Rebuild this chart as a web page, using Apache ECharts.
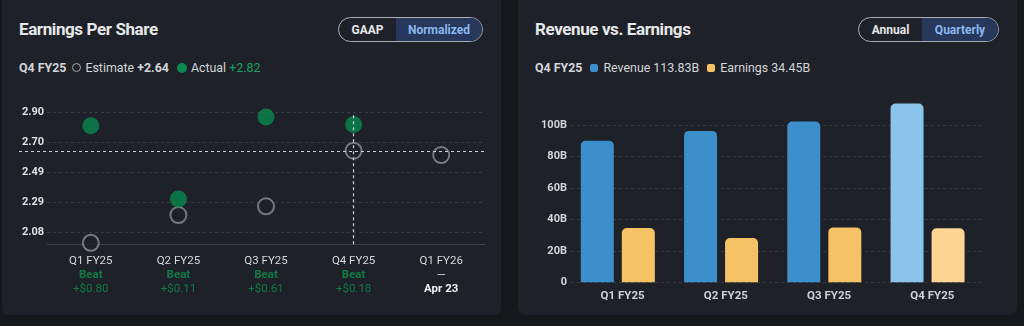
<!DOCTYPE html>
<html>
<head>
<meta charset="utf-8">
<script src="https://cdn.jsdelivr.net/npm/echarts@6/dist/echarts.min.js"></script>
<style>
  html, body { margin:0; padding:0; background:#15171b; width:1024px; height:326px; overflow:hidden; font-family: Roboto, "Noto Sans", sans-serif; }
  .panel { position:absolute; top:-6px; height:321px; background:#1e2128; border-radius:7px; }
  .title { position:absolute; left:17px; top:25px; font-size:17px; font-weight:700; color:#e6e7e9; letter-spacing:-0.4px; }
  .sub { position:absolute; left:17px; top:66px; font-size:12.4px; color:#d3d5d9; white-space:nowrap; display:flex; align-items:center; }
  .sub b { font-weight:700; }
  .toggle { position:absolute; top:23px; height:23px; border:1.5px solid #a9acb2; border-radius:13px; overflow:hidden; display:flex; font-size:12px; font-weight:700; }
  .toggle span { display:flex; align-items:center; justify-content:center; height:100%; }
  .toggle .off { color:#e6e7e9; }
  .toggle .on { background:#27385c; color:#8bb8ec; }
  .ring { display:inline-block; width:7px; height:7px; border:1.3px solid #a5a8ad; border-radius:50%; margin:0 4px 0 6px; }
  .dot { display:inline-block; width:10px; height:10px; background:#0a8a4f; border-radius:50%; margin:0 4px 0 8px; }
  .sq { display:inline-block; width:8px; height:8px; border-radius:2px; margin:0 5px 0 8px; }
  .chart { position:absolute; left:0; top:6px; width:100%; height:315px; }
</style>
</head>
<body>
<div class="panel" id="p1" style="left:2px;width:499px;">
  <div class="title">Earnings Per Share</div>
  <div class="toggle" style="left:336px;width:143px;"><span class="off" style="width:57px">GAAP</span><span class="on" style="width:86px">Normalized</span></div>
  <div class="sub" id="sub1"></div>
  <div class="chart" id="c1"></div>
</div>
<div class="panel" id="p2" style="left:518px;width:499px;">
  <div class="title">Revenue vs. Earnings</div>
  <div class="toggle" style="left:340px;width:139px;"><span class="off" style="width:63px">Annual</span><span class="on" style="width:76px">Quarterly</span></div>
  <div class="sub" id="sub2"></div>
  <div class="chart" id="c2"></div>
</div>
<script>
// ---- EPS data ----
const epsCategories = ['Q1 FY25', 'Q2 FY25', 'Q3 FY25', 'Q4 FY25', 'Q1 FY26'];
const epsEstimate = [2.01, 2.20, 2.26, 2.64, 2.61];
const epsActual = [2.81, 2.31, 2.87, 2.82, null];
const epsResult = ['Beat', 'Beat', 'Beat', 'Beat', '—'];
const epsDiff = ['+$0.80', '+$0.11', '+$0.61', '+$0.18', 'Apr 23'];
const epsTicks = [2.08, 2.285, 2.49, 2.695, 2.90];
const epsTickLabels = ['2.08', '2.29', '2.49', '2.70', '2.90'];
const epsMin = 2.0, epsMax = 2.90;
const epsFocus = 3;

// ---- Revenue / earnings data ----
const revCategories = ['Q1 FY25', 'Q2 FY25', 'Q3 FY25', 'Q4 FY25'];
const revenue = [90.23, 96.43, 102.35, 113.83];
const earnings = [34.54, 28.20, 34.98, 34.45];
const revTicks = [0, 20, 40, 60, 80, 100];
const revTickLabels = ['0', '20B', '40B', '60B', '80B', '100B'];
const revFocus = 3;

// headers
document.getElementById('sub1').innerHTML =
  '<b>' + epsCategories[epsFocus] + '</b><span class="ring"></span>Estimate&nbsp;<b>+' + epsEstimate[epsFocus].toFixed(2) +
  '</b><span class="dot"></span>Actual&nbsp;<span style="color:#13a05e">+' + epsActual[epsFocus].toFixed(2) + '</span>';
document.getElementById('sub2').innerHTML =
  '<b>' + revCategories[revFocus] + '</b><span class="sq" style="background:#3b8fcb"></span>Revenue ' + revenue[revFocus].toFixed(2) +
  'B<span class="sq" style="background:#f5c266"></span>Earnings ' + earnings[revFocus].toFixed(2) + 'B';

const gridLine = '#363a42';

// ---- EPS chart ----
const c1 = echarts.init(document.getElementById('c1'), null, {renderer:'canvas'});
const epsGrid = {left:45, right:16, top:112.7, bottom:70.7};
c1.setOption({
  animation:false,
  grid: epsGrid,
  xAxis: {
    type:'category', data: epsCategories, boundaryGap:true,
    axisLine:{show:true, lineStyle:{color:'#3a3e46', width:1}},
    axisTick:{show:false},
    axisLabel:{
      margin:10, interval:0,
      formatter: function (v, i) {
        const done = epsActual[i] != null;
        return '{q|' + v + '}\n' + (done ? '{g|' : '{d|') + epsResult[i] + '}\n' + (done ? '{gv|' : '{dt|') + epsDiff[i] + '}';
      },
      rich:{
        q:{color:'#d6d8dc', fontSize:11.5, lineHeight:14, fontFamily:'Roboto'},
        g:{color:'#0d7b46', fontSize:11.5, fontWeight:'bold', lineHeight:14, fontFamily:'Roboto'},
        gv:{color:'#0d7b46', fontSize:11.5, lineHeight:14, fontFamily:'Roboto'},
        d:{color:'#d6d8dc', fontSize:11.5, lineHeight:14, fontFamily:'Roboto'},
        dt:{color:'#eeeff1', fontSize:11.5, fontWeight:'bold', lineHeight:14, fontFamily:'Roboto'}
      }
    }
  },
  yAxis: {
    type:'value', min:epsMin, max:epsMax,
    axisLine:{show:false},
    axisTick:{show:false, customValues: epsTicks},
    axisLabel:{customValues: epsTicks, margin:3, color:'#dfe1e4', fontSize:11, fontWeight:'bold', fontFamily:'Roboto',
      formatter: function (v) { const k = epsTicks.findIndex(t => Math.abs(t - v) < 1e-6); return k >= 0 ? epsTickLabels[k] : ''; }},
    splitLine:{show:true, lineStyle:{color:gridLine, type:[3,3], width:1}}
  },
  series: [
    { name:'Estimate', type:'scatter', data: epsEstimate, symbol:'circle', symbolSize:16, clip:false, z:2,
      itemStyle:{color:'#1e2128', borderColor:'#8b8f96', borderWidth:2} },
    { name:'Actual', type:'scatter', data: epsActual, symbol:'circle', symbolSize:17, clip:false, z:2,
      itemStyle:{color:'#08884d'} },
    { name:'focus', type:'line', data:[], z:5,
      markLine:{ silent:true, symbol:'none', label:{show:false},
        lineStyle:{color:'#cfd1d4', type:[3,3], width:1.2},
        data:[{xAxis: epsCategories[epsFocus]}] } }
  ]
});
const py = c1.convertToPixel({gridIndex:0}, [epsFocus, epsEstimate[epsFocus]]);
c1.setOption({graphic:[{type:'line', z:10, silent:true,
  shape:{x1:17, y1:Math.round(py[1]) + 0.5, x2:c1.getWidth() - epsGrid.right, y2:Math.round(py[1]) + 0.5},
  style:{stroke:'#cfd1d4', lineDash:[3,3], lineWidth:1.2}}]});

// ---- Revenue chart ----
const c2 = echarts.init(document.getElementById('c2'), null, {renderer:'canvas'});
const revColors = revenue.map((_, i) => i === revFocus ? '#8bc4ea' : '#3b8fcb');
const earnColors = earnings.map((_, i) => i === revFocus ? '#fdd491' : '#f5c266');
c2.setOption({
  animation:false,
  grid:{left:53, right:33, top:93.9, bottom:32.7},
  xAxis:{
    type:'category', data: revCategories,
    axisLine:{show:false}, axisTick:{show:false},
    axisLabel:{margin:8, color:'#cdd0d5', fontSize:11.5, fontWeight:'bold', fontFamily:'Roboto'}
  },
  yAxis:{
    type:'value', min:0, max:120,
    axisLine:{show:false},
    axisTick:{show:false, customValues: revTicks},
    axisLabel:{customValues: revTicks, margin:4, color:'#d3d6da', fontSize:11, fontWeight:'bold', fontFamily:'Roboto',
      formatter: function (v) { const k = revTicks.indexOf(v); return k >= 0 ? revTickLabels[k] : ''; }},
    splitLine:{show:true, lineStyle:{color:gridLine, type:[3,3], width:1}}
  },
  series:[
    { name:'Revenue', type:'bar', barWidth:33, barGap:'24.3%',
      data: revenue.map((v, i) => ({value:v, itemStyle:{color:revColors[i]}})),
      itemStyle:{borderRadius:[5,5,0,0]} },
    { name:'Earnings', type:'bar', barWidth:33, barGap:'24.3%',
      data: earnings.map((v, i) => ({value:v, itemStyle:{color:earnColors[i]}})),
      itemStyle:{borderRadius:[5,5,0,0]} },
    { name:'spacer', type:'bar', barWidth:1.6, barGap:'24.3%', data: revenue.map(() => null) }
  ]
});
</script>
</body>
</html>
